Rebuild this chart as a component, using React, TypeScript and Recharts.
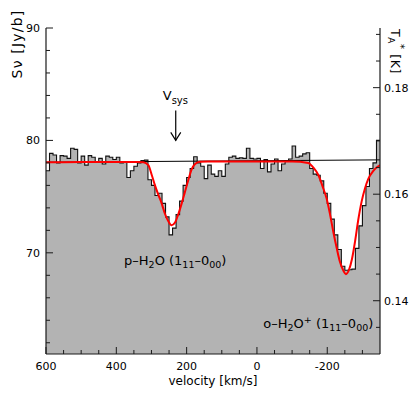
import React from 'react'
import { ComposedChart, Area, Line, XAxis, YAxis, ReferenceDot } from 'recharts'

/* ------------------------------------------------------------------ */
/*  Data                                                               */
/* ------------------------------------------------------------------ */

// channel grid: first channel starts at 600 km/s, 10 km/s wide, down to -350
const CHANNEL_START = 600
const CHANNEL_WIDTH = 10
const VELOCITY_END = -350

// observed flux per channel [Jy/b], read left to right (600 -> -350 km/s)
const channelFlux = [
  77.3, 78.85, 78.7, 78.0, 78.65, 78.6, 78.4, 79.3, 79.2, 78.0,
  78.6, 77.8, 78.65, 78.5, 78.1, 78.4, 77.9, 78.6, 78.5, 78.3,
  78.5, 78.0, 78.1, 76.7, 77.3, 77.7, 78.0, 78.2, 78.25, 76.5,
  76.0, 75.1, 75.3, 74.4, 73.2, 71.6, 72.2, 73.4, 74.6, 76.0,
  76.7, 77.5, 78.55, 78.0, 77.7, 76.6, 77.8, 77.0, 76.8, 77.3,
  76.8, 77.9, 78.5, 78.6, 78.4, 78.45, 78.4, 79.3, 78.4, 78.35,
  78.4, 77.5, 78.3, 77.2, 77.9, 78.35, 77.3, 77.9, 78.2, 78.35,
  79.5, 78.5, 78.6, 78.8, 78.9, 77.5, 77.0, 76.9, 76.4, 75.3,
  74.4, 73.0, 71.6, 70.3, 68.8, 68.45, 68.5, 68.55, 70.4, 72.4,
  74.2, 75.9, 77.5, 78.0, 80.0,
]

// continuum level
const baselineVelocity = [600, -350]
const baselineFlux = [78.06, 78.27]

// gaussian fit (red)
const fitVelocity = [
  600, 500, 400, 340, 323, 309, 299, 290, 281, 271, 262, 252, 243, 233, 224,
  214, 205, 195, 186, 176, 162, 140, 0, -100, -146, -160, -175, -189, -198,
  -208, -217, -227, -236, -246, -253, -262, -270, -279, -288, -298, -307,
  -317, -331, -350,
]
const fitFlux = [
  78.06, 78.07, 78.08, 78.08, 78.05, 77.8, 76.9, 76.0, 75.2, 74.4, 73.5,
  72.8, 72.45, 72.7, 73.4, 74.4, 75.4, 76.5, 77.4, 77.9, 78.1, 78.12, 78.12,
  78.12, 78.0, 77.6, 76.9, 75.7, 74.85, 73.4, 71.9, 70.4, 69.2, 68.4, 68.1,
  68.5, 69.4, 71.0, 72.9, 74.6, 75.7, 76.6, 77.3, 77.8,
]

const VSYS = 231

// ticks
const velocityTicks = [
  600, 550, 500, 450, 400, 350, 300, 250, 200, 150, 100, 50, 0, -50, -100,
  -150, -200, -250, -300,
]
const velocityLabels = [600, 400, 200, 0, -200]
const fluxTicks = [62, 64, 66, 68, 70, 72, 74, 76, 78, 80, 82, 84, 86, 88, 90]
const fluxLabels = [70, 80, 90]
const tempTicks = [0.135, 0.14, 0.145, 0.15, 0.155, 0.16, 0.165, 0.17, 0.175, 0.18, 0.185, 0.19]
const tempLabels = [0.14, 0.16, 0.18]
const topTicks = [-4, -3, -2, -1, 0, 1, 2, 3, 4, 5, 6, 7, 8, 9, 10, 11, 12]
const topMajor = [0, 5, 10]

const spectrum = channelFlux.map((s, i) => ({ v: CHANNEL_START - i * CHANNEL_WIDTH, s }))
spectrum.push({ v: VELOCITY_END, s: channelFlux[channelFlux.length - 1] })

const baseline = baselineVelocity.map((v, i) => ({ v, s: baselineFlux[i] }))
const fit = fitVelocity.map((v, i) => ({ v, s: fitFlux[i] }))

/* ------------------------------------------------------------------ */
/*  Styling                                                            */
/* ------------------------------------------------------------------ */

const FONT = 'DejaVu Sans'
const AXIS = '#1a1a1a'
const GREY = '#b3b3b3'

/* ------------------------------------------------------------------ */
/*  Ticks (drawn inward, like the original)                            */
/* ------------------------------------------------------------------ */

function BottomTick({ x, y, payload }: any) {
  const major = velocityLabels.includes(payload.value)
  return (
    <g>
      <line x1={x} y1={y} x2={x} y2={y - (major ? 7 : 4)} stroke={AXIS} />
      {major && (
        <text x={x} y={y + 16} textAnchor="middle" fontSize={11} fontFamily={FONT} fill="#000">
          {payload.value}
        </text>
      )}
    </g>
  )
}

function TopTick({ x, y, payload }: any) {
  const major = topMajor.includes(payload.value)
  return <line x1={x} y1={y} x2={x} y2={y + (major ? 7 : 4)} stroke={AXIS} />
}

function LeftTick({ x, y, payload }: any) {
  const major = fluxLabels.includes(payload.value)
  return (
    <g>
      <line x1={x} y1={y} x2={x + (major ? 7 : 4)} y2={y} stroke={AXIS} />
      {major && (
        <text x={x - 6} y={y + 4} textAnchor="end" fontSize={11} fontFamily={FONT} fill="#000">
          {payload.value}
        </text>
      )}
    </g>
  )
}

function RightTick({ x, y, payload }: any) {
  const major = tempLabels.includes(payload.value)
  return (
    <g>
      <line x1={x} y1={y} x2={x - (major ? 7 : 4)} y2={y} stroke={AXIS} />
      {major && (
        <text x={x + 4} y={y + 4} textAnchor="start" fontSize={11} fontFamily={FONT} fill="#000">
          {payload.value}
        </text>
      )}
    </g>
  )
}

/* ------------------------------------------------------------------ */
/*  Annotations                                                        */
/* ------------------------------------------------------------------ */

function VsysArrow({ cx, cy }: any) {
  return (
    <g stroke="#000" fill="none" strokeWidth={1.2}>
      <line x1={cx} y1={cy - 30} x2={cx} y2={cy} />
      <polyline points={`${cx - 5},${cy - 8} ${cx},${cy} ${cx + 5},${cy - 8}`} />
      <text x={cx - 13} y={cy - 40} stroke="none" fill="#000" fontFamily={FONT} fontSize={13}>
        V<tspan fontSize={10} dy={4}>sys</tspan>
      </text>
    </g>
  )
}

function ParaLabel({ cx, cy }: any) {
  return (
    <text x={cx} y={cy} fill="#000" fontFamily={FONT} fontSize={13} textAnchor="start">
      p–H<tspan fontSize={9.5} dy={3}>2</tspan>
      <tspan dy={-3}>O (1</tspan>
      <tspan fontSize={9.5} dy={3}>11</tspan>
      <tspan dy={-3}>–0</tspan>
      <tspan fontSize={9.5} dy={3}>00</tspan>
      <tspan dy={-3}>)</tspan>
    </text>
  )
}

function OrthoLabel({ cx, cy }: any) {
  return (
    <text x={cx} y={cy} fill="#000" fontFamily={FONT} fontSize={13} textAnchor="end">
      o–H<tspan fontSize={9.5} dy={3}>2</tspan>
      <tspan dy={-3}>O</tspan>
      <tspan fontSize={9.5} dy={-5}>+</tspan>
      <tspan dy={5}> (1</tspan>
      <tspan fontSize={9.5} dy={3}>11</tspan>
      <tspan dy={-3}>–0</tspan>
      <tspan fontSize={9.5} dy={3}>00</tspan>
      <tspan dy={-3}>)</tspan>
    </text>
  )
}

/* ------------------------------------------------------------------ */
/*  Axis titles                                                        */
/* ------------------------------------------------------------------ */

const fluxTitle = ({ viewBox }: any) => {
  const x = viewBox.x + 22
  const y = viewBox.y + 16
  return (
    <text
      x={x}
      y={y}
      transform={`rotate(-90, ${x}, ${y})`}
      textAnchor="middle"
      fontFamily={FONT}
      fontSize={14}
      letterSpacing={1.2}
      fill="#000"
    >
      Sν [Jy/b]
    </text>
  )
}

const tempTitle = ({ viewBox }: any) => {
  const x = viewBox.x + 11
  const y = 29
  return (
    <text
      x={x}
      y={y}
      transform={`rotate(90, ${x}, ${y})`}
      fontFamily={FONT}
      fontSize={12.5}
      letterSpacing={0.6}
      fill="#000"
    >
      T<tspan fontSize={9} dy={3}>A</tspan>
      <tspan fontSize={10} dy={-9}>*</tspan>
      <tspan dy={6}> [K]</tspan>
    </text>
  )
}

const velocityTitle = ({ viewBox }: any) => (
  <text
    x={viewBox.x + viewBox.width / 2}
    y={viewBox.y + 31}
    textAnchor="middle"
    fontFamily={FONT}
    fontSize={12}
    fill="#000"
  >
    velocity [km/s]
  </text>
)

/* ------------------------------------------------------------------ */
/*  Chart                                                              */
/* ------------------------------------------------------------------ */

export default function App() {
  return (
    <div style={{ width: 417, height: 395, background: '#fff' }}>
      <style>{'body { margin: 0; }'}</style>
      <ComposedChart
        width={417}
        height={395}
        data={spectrum}
        margin={{ top: 28, right: 0, bottom: 0, left: 0 }}
      >
        <XAxis
          xAxisId="bottom"
          dataKey="v"
          type="number"
          domain={[VELOCITY_END, CHANNEL_START]}
          reversed
          allowDataOverflow
          ticks={velocityTicks}
          interval={0}
          height={41}
          tickSize={0}
          tickMargin={0}
          tick={<BottomTick />}
          axisLine={{ stroke: AXIS, strokeWidth: 1.2 }}
          label={{ content: velocityTitle }}
        />
        <XAxis
          xAxisId="top"
          orientation="top"
          type="number"
          domain={[-4.8, 12.87]}
          allowDataOverflow
          ticks={topTicks}
          interval={0}
          height={0}
          tickSize={0}
          tickMargin={0}
          tick={<TopTick />}
          axisLine={{ stroke: AXIS, strokeWidth: 1.2 }}
        />
        <YAxis
          yAxisId="left"
          type="number"
          domain={[61, 90]}
          allowDataOverflow
          ticks={fluxTicks}
          interval={0}
          width={46}
          tickSize={0}
          tickMargin={0}
          tick={<LeftTick />}
          axisLine={{ stroke: AXIS, strokeWidth: 1.2 }}
          label={{ content: fluxTitle }}
        />
        <YAxis
          yAxisId="right"
          orientation="right"
          type="number"
          domain={[0.13, 0.1912]}
          allowDataOverflow
          ticks={tempTicks}
          interval={0}
          width={37}
          tickSize={0}
          tickMargin={0}
          tick={<RightTick />}
          axisLine={{ stroke: AXIS, strokeWidth: 1.2 }}
          label={{ content: tempTitle }}
        />

        <Area
          xAxisId="bottom"
          yAxisId="left"
          dataKey="s"
          type="stepAfter"
          fill={GREY}
          fillOpacity={1}
          stroke="#111"
          strokeWidth={1.1}
          dot={false}
          activeDot={false}
          isAnimationActive={false}
        />
        <Line
          xAxisId="bottom"
          yAxisId="left"
          data={baseline}
          dataKey="s"
          type="linear"
          stroke="#000"
          strokeWidth={1}
          dot={false}
          activeDot={false}
          isAnimationActive={false}
        />
        <Line
          xAxisId="bottom"
          yAxisId="left"
          data={fit}
          dataKey="s"
          type="monotone"
          stroke="#ff0000"
          strokeWidth={2}
          dot={false}
          activeDot={false}
          isAnimationActive={false}
        />

        <ReferenceDot xAxisId="bottom" yAxisId="left" x={VSYS} y={80} shape={VsysArrow} />
        <ReferenceDot xAxisId="bottom" yAxisId="left" x={378} y={68.9} shape={ParaLabel} />
        <ReferenceDot xAxisId="bottom" yAxisId="left" x={-331} y={63.3} shape={OrthoLabel} />
      </ComposedChart>
    </div>
  )
}
